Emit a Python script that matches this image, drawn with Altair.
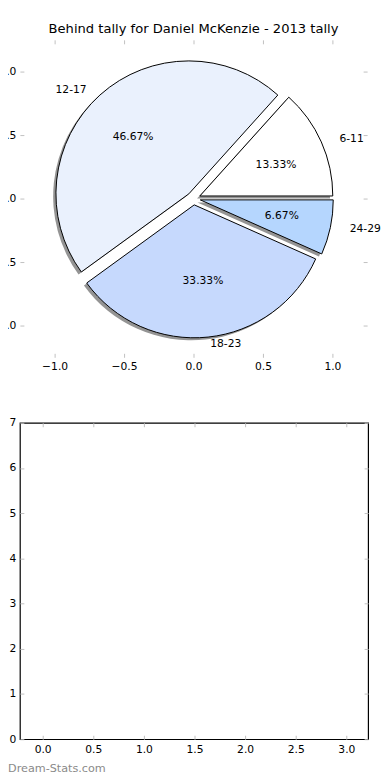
import math
import altair as alt
import pandas as pd

# ---------------- data ----------------
TITLE = "Behind tally for Daniel McKenzie - 2013 tally"
AGE_GROUPS = ["6-11", "12-17", "18-23", "24-29"]
COUNTS = [2, 7, 5, 1]
PERCENT_LABELS = ["13.33%", "46.67%", "33.33%", "6.67%"]
SLICE_COLORS = ["#FFFFFF", "#EAF1FD", "#C6D9FD", "#B5D6FE"]
EXPLODE = [0.05, 0.05, 0.05, 0.05]

PIE_TICKS = [-1.0, -0.5, 0.0, 0.5, 1.0]
PIE_DOMAIN = [-1.25, 1.25]

BAR_X_TICKS = [0.0, 0.5, 1.0, 1.5, 2.0, 2.5, 3.0]
BAR_Y_TICKS = [0, 1, 2, 3, 4, 5, 6, 7]
BAR_X_DOMAIN = [-0.225, 3.215]
BAR_Y_DOMAIN = [0, 7]

WATERMARK = "Dream-Stats.com"

# ---------------- styling ----------------
FONT = "DejaVu Sans"
FS = 10.8
TICK_GREY = "#c0c0c0"

total = sum(COUNTS)
rows = []
cum = 0
for g, c, p, e in zip(AGE_GROUPS, COUNTS, PERCENT_LABELS, EXPLODE):
    c0, c1 = cum, cum + c
    cum = c1
    mid = 2 * math.pi * (c0 + c1) / 2 / total
    cx, cy = e * math.cos(mid), e * math.sin(mid)
    rows.append(dict(group=g, pct=p, c0=c0, c1=c1, cx=cx, cy=cy,
                     sx=cx - 0.02, sy=cy - 0.02,
                     lx=cx + 1.1 * math.cos(mid), ly=cy + 1.1 * math.sin(mid),
                     px=cx + 0.6 * math.cos(mid), py=cy + 0.6 * math.sin(mid)))
pie = pd.DataFrame(rows)

pie_ticks = pd.DataFrame({"v": PIE_TICKS})

xs = alt.Scale(domain=PIE_DOMAIN, nice=False, zero=False)
ys = alt.Scale(domain=PIE_DOMAIN, nice=False, zero=False)
theta_scale = alt.Scale(domain=[0, total], range=[2.5 * math.pi, 0.5 * math.pi])
color_scale = alt.Scale(domain=AGE_GROUPS, range=SLICE_COLORS)


def mk_axis(orient, values, labels, fmt, pad):
    return alt.Axis(orient=orient, values=values, labels=labels, format=fmt,
                    domain=False, grid=False, ticks=True, tickColor=TICK_GREY,
                    tickSize=4, tickWidth=1, offset=-4, title=None,
                    labelFont=FONT, labelFontSize=FS, labelColor="black",
                    labelPadding=pad, labelFlush=False, labelOverlap=False)


W1, H1 = 350, 320

axes_main = alt.Chart(pie_ticks).mark_point(opacity=0).encode(
    x=alt.X("v:Q", scale=xs, axis=mk_axis("bottom", PIE_TICKS, True, ".1f", 3)),
    y=alt.Y("v:Q", scale=ys, axis=mk_axis("left", PIE_TICKS, True, ".1f", 4)),
)
axes_opp = alt.Chart(pie_ticks).mark_point(opacity=0).encode(
    x=alt.X("v:Q", scale=xs, axis=mk_axis("top", PIE_TICKS, False, ".1f", 3)),
    y=alt.Y("v:Q", scale=ys, axis=mk_axis("right", PIE_TICKS, False, ".1f", 4)),
)

shadow = alt.Chart(pie).mark_arc(radius=134, color="#949494").encode(
    x=alt.X("sx:Q", scale=xs, axis=None),
    y=alt.Y("sy:Q", scale=ys, axis=None),
    theta=alt.Theta("c0:Q", scale=theta_scale),
    theta2="c1:Q",
)
slices = alt.Chart(pie).mark_arc(radius=134, stroke="black", strokeWidth=1).encode(
    x=alt.X("cx:Q", scale=xs, axis=None),
    y=alt.Y("cy:Q", scale=ys, axis=None),
    theta=alt.Theta("c0:Q", scale=theta_scale),
    theta2="c1:Q",
    color=alt.Color("group:N", scale=color_scale, legend=None),
)
lab_right = alt.Chart(pie).transform_filter("datum.lx > 0").mark_text(
    align="left", baseline="middle", font=FONT, fontSize=FS, color="black"
).encode(x=alt.X("lx:Q", scale=xs, axis=None), y=alt.Y("ly:Q", scale=ys, axis=None), text="group:N")
lab_left = alt.Chart(pie).transform_filter("datum.lx <= 0").mark_text(
    align="right", baseline="middle", font=FONT, fontSize=FS, color="black"
).encode(x=alt.X("lx:Q", scale=xs, axis=None), y=alt.Y("ly:Q", scale=ys, axis=None), text="group:N")
pct = alt.Chart(pie).mark_text(
    align="center", baseline="middle", font=FONT, fontSize=FS, color="black"
).encode(x=alt.X("px:Q", scale=xs, axis=None), y=alt.Y("py:Q", scale=ys, axis=None), text="pct:N")

top = alt.layer(axes_main, axes_opp, shadow, slices, lab_right, lab_left, pct).resolve_axis(
    x="independent", y="independent"
).properties(
    width=W1, height=H1,
    title=alt.TitleParams(TITLE, font=FONT, fontSize=13.2, fontWeight="normal",
                          color="black", offset=3, anchor="middle"),
    view=alt.ViewBackground(stroke="transparent"),
)

# ---------------- bottom empty axes ----------------
W2, H2 = 351, 319
bx = alt.Scale(domain=BAR_X_DOMAIN, nice=False, zero=False)
by = alt.Scale(domain=BAR_Y_DOMAIN, nice=False, zero=False)
bar_ticks = pd.DataFrame({"x": BAR_X_TICKS + [BAR_X_TICKS[-1]], "y": BAR_Y_TICKS})

b_main = alt.Chart(bar_ticks).mark_point(opacity=0).encode(
    x=alt.X("x:Q", scale=bx, axis=mk_axis("bottom", BAR_X_TICKS, True, ".1f", 4)),
    y=alt.Y("y:Q", scale=by, axis=mk_axis("left", BAR_Y_TICKS, True, "d", 4)),
)
b_opp = alt.Chart(bar_ticks).mark_point(opacity=0).encode(
    x=alt.X("x:Q", scale=bx, axis=mk_axis("top", BAR_X_TICKS, False, ".1f", 4)),
    y=alt.Y("y:Q", scale=by, axis=mk_axis("right", BAR_Y_TICKS, False, "d", 4)),
)
wm = alt.Chart(pd.DataFrame({"t": [WATERMARK]})).mark_text(
    align="left", baseline="middle", font=FONT, fontSize=11.3, color="#8a8a8a"
).encode(x=alt.value(-12), y=alt.value(H2 + 30), text="t:N")

bottom = alt.layer(b_main, b_opp, wm).resolve_axis(
    x="independent", y="independent"
).properties(
    width=W2, height=H2,
    view=alt.ViewBackground(stroke="black", strokeWidth=1.2),
)

chart = alt.vconcat(top, bottom, spacing=44).properties(
    padding={"left": -19, "top": 10, "right": 0, "bottom": 0},
).configure(font=FONT).configure_view(fill="white")

chart.save("out.html", embed_options={"renderer": "svg", "actions": False})
